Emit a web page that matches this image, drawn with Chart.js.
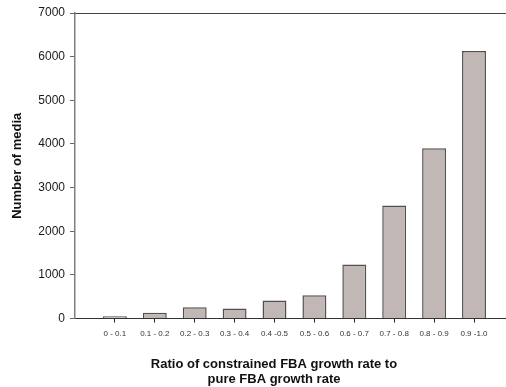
<!DOCTYPE html>
<html>
<head>
<meta charset="utf-8">
<script src="https://cdn.jsdelivr.net/npm/chart.js@4/dist/chart.umd.min.js"></script>
<style>
  html, body { margin: 0; padding: 0; background: #fff; overflow: hidden; width: 506px; height: 387px; }
  canvas { display: block; }
</style>
</head>
<body>
<canvas id="chart" width="540" height="387"></canvas>
<script>
// Growth-rate ratio bins and how many media fall in each
const categories = ['0 - 0.1', '0.1 - 0.2', '0.2 - 0.3', '0.3 - 0.4', '0.4 -0.5',
                    '0.5 - 0.6', '0.6 - 0.7', '0.7 - 0.8', '0.8 - 0.9', '0.9 -1.0'];
const mediaCounts = [50, 130, 260, 230, 410, 530, 1240, 2590, 3900, 6130];
const yTickValues = [0, 1000, 2000, 3000, 4000, 5000, 6000, 7000];

const xMin = -1;
const xMax = 10.654;
const FONT = "'Liberation Sans', Arial, sans-serif";

const points = categories.map((c, i) => ({ x: i, y: mediaCounts[i] }));

new Chart(document.getElementById('chart'), {
  type: 'bar',
  data: {
    datasets: [{
      data: points,
      backgroundColor: '#c1b7b5',
      borderColor: '#555050',
      borderWidth: 1.5,
      barPercentage: 0.6,
      categoryPercentage: 1
    }]
  },
  options: {
    responsive: false,
    animation: false,
    layout: { padding: { top: 5, left: 8, right: 0, bottom: 0 } },
    plugins: {
      legend: { display: false },
      tooltip: { enabled: false },
      title: {
        display: true,
        position: 'bottom',
        text: ['Ratio of constrained FBA growth rate to', 'pure FBA growth rate'],
        color: '#111',
        font: { family: FONT, size: 13, weight: 'bold', lineHeight: 1.15 },
        padding: { top: 20, bottom: 0 }
      }
    },
    scales: {
      x: {
        type: 'linear',
        position: 'bottom',
        min: xMin,
        max: xMax,
        offset: false,
        afterBuildTicks: s => { s.ticks = categories.map((c, i) => ({ value: i })); },
        afterFit: s => { s.height = 18.6; },
        grid: {
          offset: false,
          drawOnChartArea: false,
          tickLength: 4,
          tickWidth: 1,
          tickColor: '#222'
        },
        border: { color: '#333', width: 1 },
        ticks: {
          autoSkip: false,
          maxRotation: 0,
          padding: 6,
          color: '#333',
          font: { family: FONT, size: 8 },
          callback: v => categories[v] ?? ''
        }
      },
      xTop: {
        type: 'linear',
        position: 'top',
        min: xMin,
        max: xMax,
        grid: { display: false },
        ticks: { display: false },
        border: { display: true, color: '#444', width: 1 }
      },
      y: {
        min: 0,
        max: 7000,
        afterFit: s => { s.width = 67; },
        afterBuildTicks: s => { s.ticks = yTickValues.map(v => ({ value: v })); },
        grid: { drawOnChartArea: false, tickLength: 5, tickColor: '#666' },
        border: { color: '#7f7f7f', width: 1.5 },
        ticks: {
          padding: 5,
          color: '#1a1a1a',
          font: { family: FONT, size: 12 },
          callback: v => String(v)
        },
        title: {
          display: true,
          text: 'Number of media',
          color: '#111',
          font: { family: FONT, size: 13, weight: 'bold', lineHeight: 1.15 },
          padding: { top: 2, bottom: 0 }
        }
      }
    }
  }
});
</script>
</body>
</html>
